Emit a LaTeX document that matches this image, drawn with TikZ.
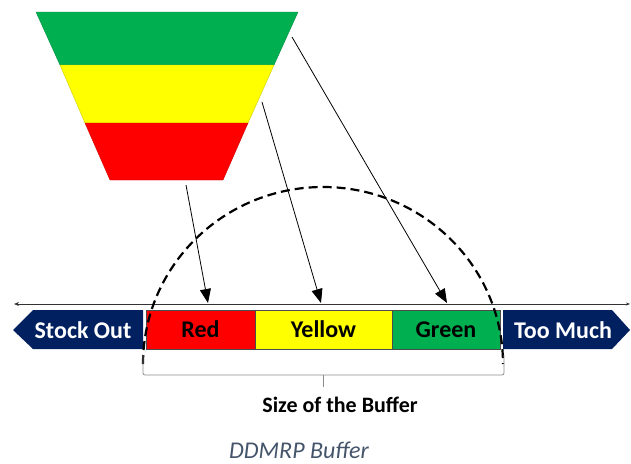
\documentclass[tikz,border=0pt]{standalone}
\usepackage{fontspec}
\setmainfont{Carlito}
\usepackage{tikz}
\usetikzlibrary{positioning,arrows.meta}

\definecolor{zonegreen}{HTML}{00B050}
\definecolor{zoneyellow}{HTML}{FFFF00}
\definecolor{zonered}{HTML}{FF0000}
\definecolor{edgenavy}{HTML}{002060}
\definecolor{captiongray}{HTML}{44546A}

\begin{document}
\begin{tikzpicture}[x=1pt, y=-1pt,
cell/.style={draw=black!70, line width=0.6pt, minimum height=39pt, inner sep=0pt, font=\bfseries\fontsize{24}{28}\selectfont},
edgetext/.style={text=white, inner sep=0pt, font=\bfseries\fontsize{24}{28}\selectfont},
pointer/.style={-{Triangle[length=14pt,width=11pt]}, line width=0.8pt},
]
\useasboundingbox (0,0) rectangle (631,463);

%Funnel bands
\fill[zonegreen, draw=zonegreen!80!black, line width=0.4pt] (36,12) -- (298,12) -- (274,65) -- (60,65) -- cycle;
\fill[zoneyellow, draw=zoneyellow!80!black, line width=0.4pt] (60,65) -- (274,65) -- (248,123) -- (85,123) -- cycle;
\fill[zonered, draw=zonered!80!black, line width=0.4pt] (85,123) -- (248,123) -- (223,180) -- (110,180) -- cycle;

%Start points next to the funnel
\coordinate (fromred) at (186,185);
\coordinate (fromyellow) at (262,102);
\coordinate (fromgreen) at (292,37);

%Axis line
\coordinate (axisL) at (14,304);
\coordinate (axisR) at (630,304);
\draw[{Stealth[length=5pt,width=4pt]}-{Stealth[length=4pt,width=3pt]}, black!80, line width=0.8pt] (axisL) -- (axisR);

%Buffer zones
\node[cell, fill=zonered, minimum width=109pt] (redcell) at (200.5,329.5) {Red};
\node[cell, fill=zoneyellow, minimum width=137pt] (yellowcell) at (323.5,329.5) {Yellow};
\node[cell, fill=zonegreen, minimum width=108pt] (greencell) at (446,329.5) {Green};

%Edge arrows
\fill[edgenavy] (13,330) -- (33,310) -- (143,310) -- (143,349) -- (33,349) -- cycle;
\node[edgetext] (stockout) at (83,330) {Stock Out};
\fill[edgenavy] (630,330) -- (612,310) -- (503,310) -- (503,349) -- (612,349) -- cycle;
\node[edgetext] (toomuch) at (563,330) {Too Much};

%End points on the axis
\coordinate (tored) at (208,303);
\coordinate (toyellow) at (321,303);
\coordinate (togreen) at (447,303);

%Connections funnel -- zones
\draw[pointer] (fromred) -- (tored);
\draw[pointer] (fromyellow) -- (toyellow);
\draw[pointer] (fromgreen) -- (togreen);

%Dashed arc round the buffer
\draw[line width=2.2pt, dash pattern=on 9pt off 5pt] (143,364) arc[start angle=180, end angle=360, x radius=180, y radius=177];

%Bracket and labels
\draw[black!45, line width=0.8pt, rounded corners=2pt] (143,355) -- (143,375) -- (504,375) -- (504,355);
\draw[black!45, line width=0.8pt] (323,375) -- (323,387);
\node[font=\bfseries\fontsize{22}{26}\selectfont] (buffersize) at (340,405) {Size of the Buffer};
\node[text=captiongray, inner sep=0pt, font=\itshape\fontsize{24}{28}\selectfont] (caption) at (299,450) {DDMRP Buffer};
\end{tikzpicture}
\end{document}
